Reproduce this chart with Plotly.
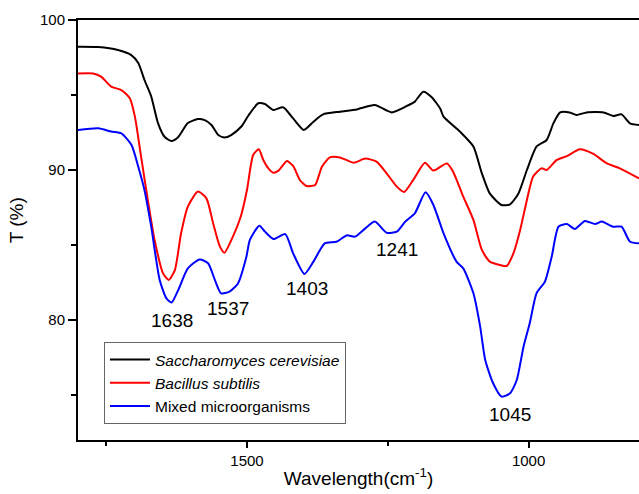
import plotly.graph_objects as go

# Wavenumber (cm-1) and transmittance (%)
sc_w = [1800, 1764, 1729, 1706, 1693, 1682, 1670, 1658, 1646, 1634, 1622, 1605, 1587, 1575, 1563,
        1551, 1540, 1528, 1510, 1498, 1480, 1468, 1453, 1436, 1418, 1399, 1382, 1365, 1335, 1305,
        1273, 1243, 1216, 1202, 1187, 1172, 1157, 1151, 1122, 1098, 1083, 1069, 1048, 1033, 1018,
        1003, 986, 968, 956, 944, 927, 915, 897, 867, 850, 835, 820, 804]
sc_t = [98.22, 98.2, 98.0, 97.67, 97.13, 96.0, 94.9, 93.13, 92.2, 91.93, 92.2, 93.13, 93.4, 93.33, 93.0,
        92.33, 92.16, 92.33, 92.9, 93.6, 94.45, 94.4, 94.0, 94.18, 93.44, 92.67, 93.22, 93.71, 93.89, 94.04,
        94.33, 93.84, 94.27, 94.56, 95.22, 94.85, 94.1, 93.56, 92.56, 91.56, 89.78, 88.44, 87.67, 87.71, 88.44,
        90.0, 91.56, 92.0, 93.11, 93.84, 93.84, 93.67, 93.84, 93.84, 93.6, 93.71, 93.11, 93.0]

bs_w = [1800, 1773, 1759, 1741, 1723, 1708, 1699, 1688, 1676, 1664, 1649, 1639, 1628, 1617, 1605,
        1587, 1572, 1560, 1548, 1540, 1525, 1511, 1500, 1489, 1479, 1471, 1462, 1453, 1444, 1429,
        1418, 1406, 1394, 1379, 1367, 1353, 1335, 1311, 1290, 1270, 1252, 1234, 1221, 1205, 1184,
        1169, 1145, 1134, 1116, 1098, 1083, 1069, 1051, 1039, 1027, 1015, 1003, 992, 977, 968,
        950, 932, 909, 885, 861, 838, 804]
bs_t = [96.44, 96.44, 96.22, 95.56, 95.33, 94.78, 93.56, 90.89, 88.0, 85.33, 83.11, 82.67, 83.33, 85.78, 87.56,
        88.56, 88.11, 86.44, 84.89, 84.49, 85.56, 86.9, 88.67, 91.0, 91.38, 90.67, 90.11, 89.82, 89.96, 90.6,
        90.27, 89.33, 88.93, 89.0, 90.22, 90.84, 90.84, 90.49, 90.76, 90.56, 89.78, 88.89, 88.53, 89.33, 90.49,
        89.96, 90.44, 89.89, 88.22, 86.67, 84.67, 83.89, 83.67, 83.6, 84.44, 86.0, 88.0, 89.56, 90.11, 90.0,
        90.67, 90.93, 91.38, 91.07, 90.44, 90.11, 89.44]

mx_w = [1800, 1764, 1741, 1723, 1705, 1693, 1682, 1670, 1655, 1643, 1634, 1622, 1605, 1584, 1569,
        1557, 1546, 1531, 1516, 1501, 1495, 1478, 1468, 1453, 1432, 1418, 1398, 1382, 1362, 1341,
        1323, 1308, 1290, 1273, 1252, 1234, 1219, 1202, 1183, 1169, 1151, 1128, 1116, 1098, 1086,
        1077, 1063, 1048, 1033, 1021, 1009, 998, 986, 971, 959, 947, 932, 918, 900, 882,
        870, 850, 835, 820, 804]
mx_t = [92.67, 92.78, 92.56, 92.44, 91.67, 90.22, 88.67, 86.22, 82.67, 81.44, 81.16, 82.0, 83.44, 84.04, 83.78,
        82.67, 81.78, 81.89, 82.44, 84.22, 85.33, 86.29, 85.89, 85.4, 85.73, 84.44, 83.07, 83.89, 85.11, 85.22,
        85.64, 85.56, 86.11, 86.56, 85.82, 85.89, 86.56, 87.11, 88.51, 87.67, 85.78, 83.89, 83.44, 81.78, 79.56,
        77.33, 75.78, 74.89, 75.11, 76.0, 78.22, 79.78, 81.78, 82.56, 84.22, 86.22, 86.4, 86.07, 86.6, 86.4,
        86.56, 86.22, 86.22, 85.22, 85.11]

peak_labels = ["1638", "1537", "1403", "1241", "1045"]
peak_x = [1633, 1534, 1394, 1234, 1033]
peak_y = [80.0, 80.8, 82.13, 84.67, 73.67]

FONT = "Liberation Sans, Arial, sans-serif"

fig = go.Figure()
fig.add_trace(go.Scatter(x=sc_w, y=sc_t, mode="lines", name="<i>Saccharomyces cerevisiae</i>",
                         line=dict(color="#000000", width=2, shape="spline", smoothing=0.6)))
fig.add_trace(go.Scatter(x=bs_w, y=bs_t, mode="lines", name="<i>Bacillus subtilis</i>",
                         line=dict(color="#ff0000", width=2, shape="spline", smoothing=0.6)))
fig.add_trace(go.Scatter(x=mx_w, y=mx_t, mode="lines", name="Mixed microorganisms",
                         line=dict(color="#0000ff", width=2, shape="spline", smoothing=0.6)))

for lab, px, py in zip(peak_labels, peak_x, peak_y):
    fig.add_annotation(x=px, y=py, text=lab, showarrow=False,
                       font=dict(family=FONT, size=19, color="#000000"))

# y-axis title placed as in the reference
fig.add_annotation(xref="paper", yref="paper", x=-0.108, y=0.524, text="T (%)",
                   textangle=-90, showarrow=False, xanchor="center", yanchor="middle",
                   font=dict(family=FONT, size=19, color="#000000"))

fig.update_layout(
    width=639, height=494,
    margin=dict(l=78, r=0, t=20, b=54),
    paper_bgcolor="white", plot_bgcolor="white",
    font=dict(family=FONT, color="#000000"),
    showlegend=True,
    legend=dict(x=0.0463, y=0.2333, xanchor="left", yanchor="top",
                bordercolor="#666666", borderwidth=1, bgcolor="white",
                font=dict(family=FONT, size=15.5, color="#000000"),
                tracegroupgap=0, itemwidth=40),
    xaxis=dict(range=[1800, 804], autorange=False,
               tickvals=[1500, 1000], ticktext=["1500", "1000"],
               ticks="outside", ticklen=6, tickwidth=1.5, tickcolor="#000000",
               minor=dict(tickvals=[1750, 1250, 750], ticks="outside", ticklen=4,
                          tickwidth=1.5, tickcolor="#000000"),
               showline=True, linecolor="#000000", linewidth=2, mirror=True,
               showgrid=False, zeroline=False,
               tickfont=dict(family=FONT, size=15, color="#000000"),
               title=dict(text="Wavelength(cm<sup>-1</sup>)", standoff=4,
                          font=dict(family=FONT, size=19, color="#000000"))),
    yaxis=dict(range=[72, 100], autorange=False,
               tickvals=[80, 90, 100], ticktext=["80", "90", "100"],
               ticks="outside", ticklen=8, tickwidth=1.5, tickcolor="#000000",
               minor=dict(tickvals=[75, 85, 95], ticks="outside", ticklen=5,
                          tickwidth=1.5, tickcolor="#000000"),
               showline=True, linecolor="#000000", linewidth=2, mirror=False,
               showgrid=False, zeroline=False,
               tickfont=dict(family=FONT, size=15, color="#000000")),
)

fig.write_html("out.html")
